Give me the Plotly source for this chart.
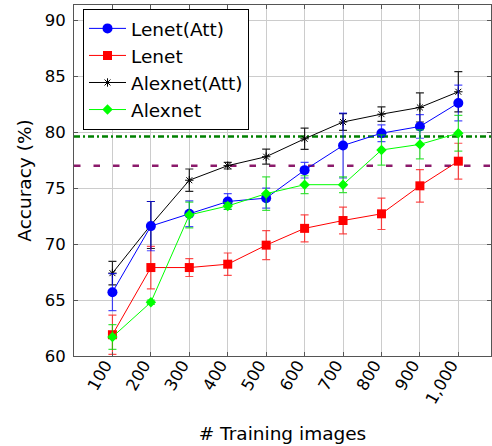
import plotly.graph_objects as go

train_images = [100, 200, 300, 400, 500, 600, 700, 800, 900, 1000]
tick_text = ["100", "200", "300", "400", "500", "600", "700", "800", "900", "1,000"]
y_ticks = [60, 65, 70, 75, 80, 85, 90]
x_limits = [0, 1085]
y_limits = [60, 91.35]

lenet_att = [65.7, 71.6, 72.7, 73.8, 74.1, 76.6, 78.8, 79.9, 80.5, 82.6]
lenet_att_err = [1.65, 2.2, 1.15, 0.7, 0.9, 0.7, 2.9, 0.75, 1.05, 1.6]

lenet = [61.9, 67.9, 67.9, 68.2, 69.9, 71.4, 72.1, 72.7, 75.2, 77.4]
lenet_err = [1.75, 1.9, 0.8, 1.0, 1.3, 1.2, 1.2, 1.4, 1.45, 1.6]

alexnet_att = [67.4, 71.7, 75.7, 77.0, 77.8, 79.4, 80.9, 81.6, 82.2, 83.6]
alexnet_att_err = [1.05, 2.1, 1.0, 0.3, 0.67, 0.95, 0.75, 0.65, 1.3, 1.8]

alexnet = [61.7, 64.8, 72.6, 73.4, 74.5, 75.3, 75.3, 78.4, 78.9, 79.9]
alexnet_err = [1.1, 0.2, 1.15, 0.3, 1.5, 0.8, 0.7, 1.35, 1.3, 1.6]

ref_alexnet = 79.6
ref_lenet = 77.0

FONT = "DejaVu Sans"

fig = go.Figure()

# horizontal reference lines (drawn first, below the data)
fig.add_trace(go.Scatter(
    x=x_limits, y=[ref_alexnet, ref_alexnet], mode="lines", showlegend=False,
    hoverinfo="skip", line=dict(color="#008000", width=2.5, dash="6px,3px,2px,3px")))
fig.add_trace(go.Scatter(
    x=x_limits, y=[ref_lenet, ref_lenet], mode="lines", showlegend=False,
    hoverinfo="skip", line=dict(color="#8b1a6b", width=2.5, dash="6.5px,13px")))

def add(name, y, err, color, err_color, symbol, size, rank, mline=None):
    marker = dict(symbol=symbol, size=size, color=color)
    if mline:
        marker["line"] = mline
    fig.add_trace(go.Scatter(
        x=train_images, y=y, name=name, mode="lines+markers",
        line=dict(color=color, width=1),
        marker=marker,
        error_y=dict(type="data", array=err, visible=True, color=err_color,
                     thickness=1.2, width=4),
        legendrank=rank,
    ))

add("Alexnet(Att)", alexnet_att, alexnet_att_err, "#000000", "rgba(0,0,0,0.85)",
    "asterisk-open", 7, 3, dict(color="#000000", width=1))
add("Lenet", lenet, lenet_err, "#ff0000", "rgba(255,0,0,0.7)", "square", 9, 2)
add("Lenet(Att)", lenet_att, lenet_att_err, "#0000ff", "rgba(0,0,255,0.7)", "circle", 10, 1)
add("Alexnet", alexnet, alexnet_err, "#00ff00", "rgba(0,220,0,0.75)", "diamond", 8, 4)

axis_common = dict(
    showgrid=True, gridcolor="#cccccc", gridwidth=1,
    showline=True, linecolor="#555555", linewidth=1, mirror="ticks",
    ticks="inside", ticklen=4, tickcolor="#555555",
    zeroline=False, automargin=False,
    tickfont=dict(family=FONT, size=16.5, color="#000000"),
)

fig.update_layout(
    width=492, height=446,
    margin=dict(l=74, r=1, t=5, b=90),
    paper_bgcolor="white", plot_bgcolor="white",
    font=dict(family=FONT, size=18, color="#000000"),
    xaxis=dict(
        range=x_limits, tickvals=train_images, ticktext=tick_text,
        tickangle=-60, ticklabelstandoff=-8, ticklabelshift=-7,
        title=dict(text="# Training images", font=dict(family=FONT, size=18.5), standoff=20),
        **axis_common,
    ),
    yaxis=dict(
        range=y_limits, tickvals=y_ticks, ticklabelstandoff=4,
        title=dict(text="Accuracy (%)", font=dict(family=FONT, size=18.5), standoff=8),
        **axis_common,
    ),
    legend=dict(
        x=0.0216, y=0.989, xanchor="left", yanchor="top",
        bgcolor="white", bordercolor="#000000", borderwidth=1,
        font=dict(family=FONT, size=18.5), tracegroupgap=0,
        itemwidth=37,
    ),
    showlegend=True,
)

fig.write_html("out.html", config={"displayModeBar": False},
               post_script="document.body.style.margin='0px';")
